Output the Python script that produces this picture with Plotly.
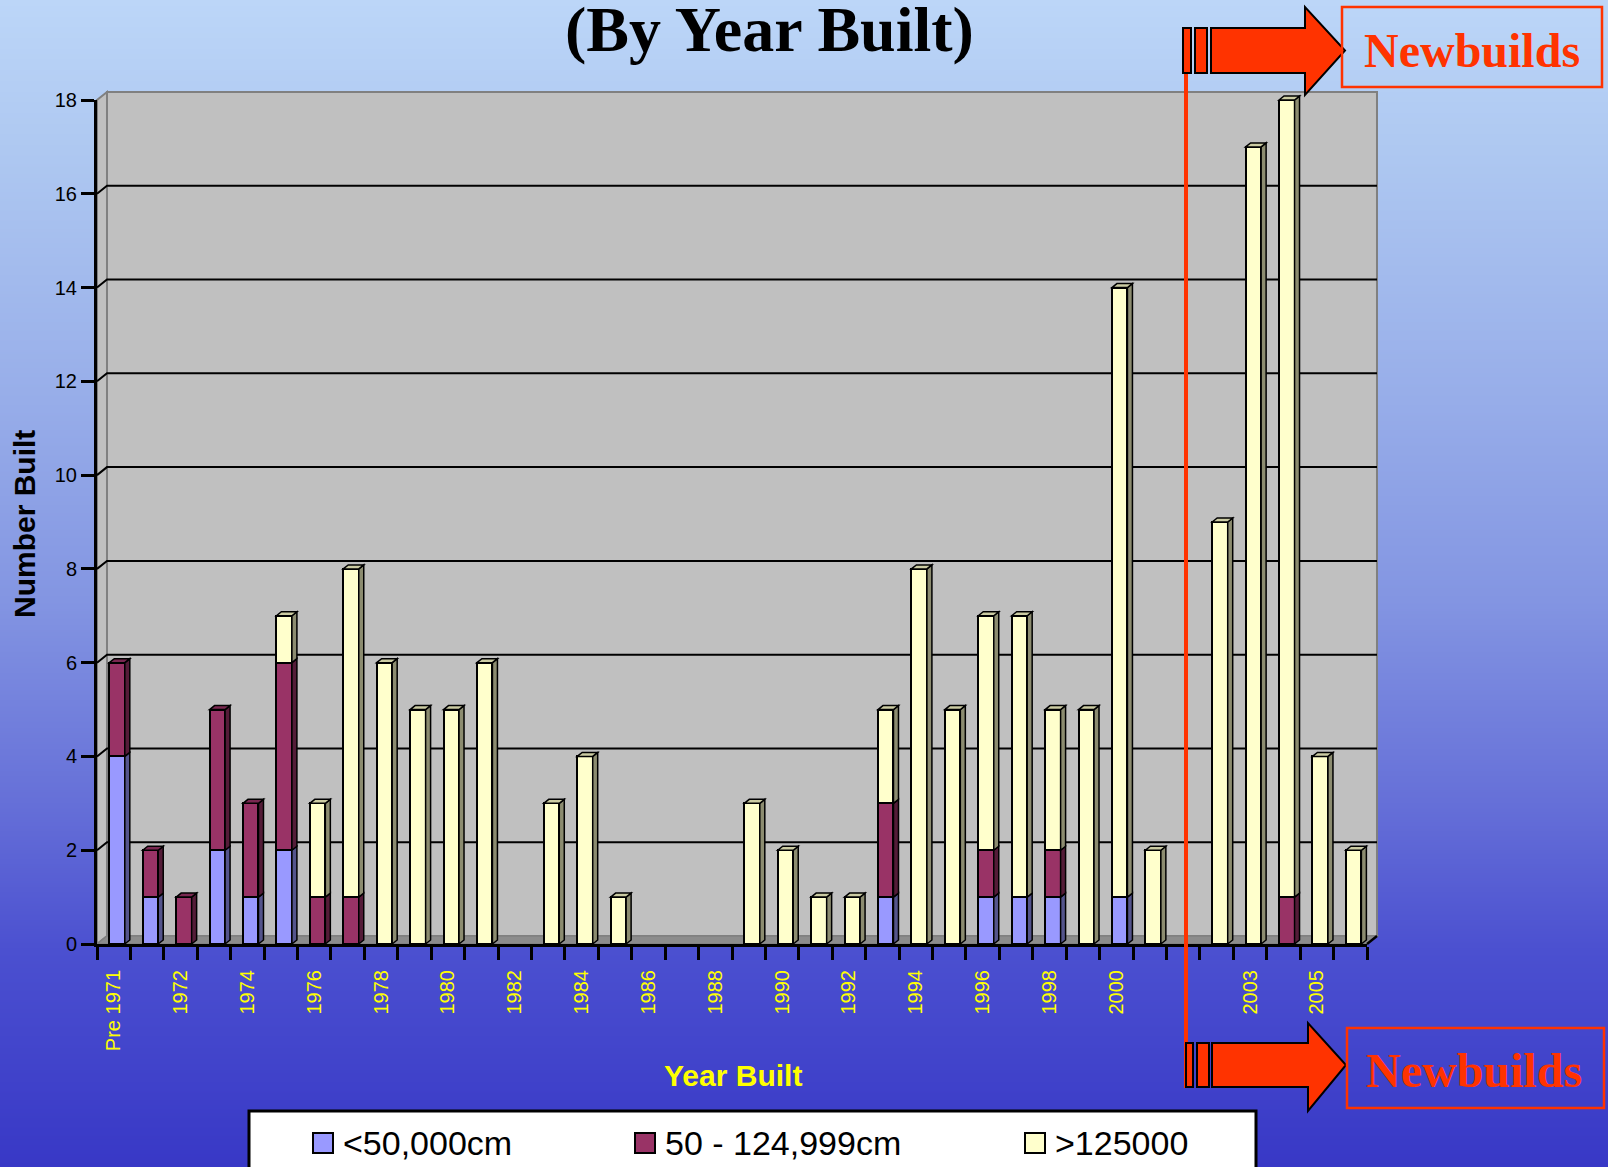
import base64
import struct
import zlib

import plotly.graph_objects as go

# ---------------------------------------------------------------- data
categories = ["Pre 1971", "1971", "1972", "1973", "1974", "1975", "1976", "1977",
              "1978", "1979", "1980", "1981", "1982", "1983", "1984", "1985",
              "1986", "1987", "1988", "1989", "1990", "1991", "1992", "1993",
              "1994", "1995", "1996", "1997", "1998", "1999", "2000", "2001",
              "", "2002", "2003", "2004", "2005", "2006"]

small = [4, 1, 0, 2, 1, 2, 0, 0, 0, 0, 0, 0, 0, 0, 0, 0, 0, 0, 0,
         0, 0, 0, 0, 1, 0, 0, 1, 1, 1, 0, 1, 0, 0, 0, 0, 0, 0, 0]
medium = [2, 1, 1, 3, 2, 4, 1, 1, 0, 0, 0, 0, 0, 0, 0, 0, 0, 0, 0,
          0, 0, 0, 0, 2, 0, 0, 1, 0, 1, 0, 0, 0, 0, 0, 0, 1, 0, 0]
large = [0, 0, 0, 0, 0, 1, 2, 7, 6, 5, 5, 6, 0, 3, 4, 1, 0, 0, 0,
         3, 2, 1, 1, 2, 8, 5, 5, 6, 3, 5, 13, 2, 0, 9, 17, 17, 4, 2]

series_names = ["<50,000cm", "50 - 124,999cm", ">125000"]
series_colors = ["#9999FF", "#993366", "#FFFFCC"]
y_ticks = [0, 2, 4, 6, 8, 10, 12, 14, 16, 18]

# ---------------------------------------------------------------- geometry
W, H = 1608, 1167
X0, X1 = 97, 1367          # pixel x of the category axis ends
Y0, Y1 = 944, 100          # pixel y of value 0 and value 18
N = len(categories)
YMAX = 18
WALL_DX, WALL_DY = 10, 8   # depth of the 3-D walls (px)
BAR_DX, BAR_DY = 5, 4      # depth of the 3-D bars (px)
BAR_W, BAR_OFF = 0.464, -0.132


def px(x):
    return (x - X0) / (X1 - X0)


def py(y):
    return (Y0 - y) / (Y0 - Y1)


wdx, wdy = WALL_DX / (X1 - X0), WALL_DY / (Y0 - Y1)
bdx, bdy = BAR_DX / (X1 - X0), BAR_DY / (Y0 - Y1)


def shade(hexcol, f):
    r, g, b = (int(hexcol[k:k + 2], 16) for k in (1, 3, 5))
    return "#%02X%02X%02X" % (int(r * f), int(g * f), int(b * f))


def poly(points):
    return "M " + " L ".join(f"{x:.5f},{y:.5f}" for x, y in points) + " Z"


# ---------------------------------------------------------------- background gradient
def gradient_png(height):
    stops = [(0, (188, 214, 248)), (150, (174, 200, 241)), (400, (151, 173, 233)),
             (600, (131, 149, 226)), (800, (102, 112, 216)), (950, (75, 80, 208)),
             (1167, (56, 56, 198))]

    def col(y):
        for (ya, ca), (yb, cb) in zip(stops, stops[1:]):
            if ya <= y <= yb:
                t = (y - ya) / (yb - ya)
                return bytes(int(round(a + (b - a) * t)) for a, b in zip(ca, cb))
        return bytes(stops[-1][1])

    raw = b"".join(b"\x00" + col(y) for y in range(height))

    def chunk(tag, data):
        return (struct.pack(">I", len(data)) + tag + data
                + struct.pack(">I", zlib.crc32(tag + data) & 0xFFFFFFFF))

    png = (b"\x89PNG\r\n\x1a\n"
           + chunk(b"IHDR", struct.pack(">IIBBBBB", 1, height, 8, 2, 0, 0, 0))
           + chunk(b"IDAT", zlib.compress(raw, 9))
           + chunk(b"IEND", b""))
    return "data:image/png;base64," + base64.b64encode(png).decode()


# ---------------------------------------------------------------- bars
fig = go.Figure()
xpos = [i + 0.5 for i in range(N)]
for name, vals, color in zip(series_names, [small, medium, large], series_colors):
    fig.add_trace(go.Bar(
        x=xpos, y=[v if v else None for v in vals], name=name,
        width=BAR_W, offset=BAR_OFF,
        marker=dict(color=color, line=dict(color="black", width=2)),
        showlegend=False, hoverinfo="skip",
    ))

shapes = []

# back wall, side wall, floor
shapes.append(dict(type="path", xref="paper", yref="paper", layer="below",
                   path=poly([(wdx, wdy), (1 + wdx, wdy), (1 + wdx, 1 + wdy), (wdx, 1 + wdy)]),
                   fillcolor="#C0C0C0", line=dict(color="#808080", width=2)))
shapes.append(dict(type="path", xref="paper", yref="paper", layer="below",
                   path=poly([(0, 0), (0, 1), (wdx, 1 + wdy), (wdx, wdy)]),
                   fillcolor="#C0C0C0", line=dict(color="#808080", width=2)))
shapes.append(dict(type="path", xref="paper", yref="paper", layer="below",
                   path=poly([(0, 0), (1, 0), (1 + wdx, wdy), (wdx, wdy)]),
                   fillcolor="#8C8C8C", line=dict(color="#808080", width=1.5)))
# gridlines on the back wall
for v in y_ticks[1:-1]:
    yv = v / YMAX
    shapes.append(dict(type="path", xref="paper", yref="paper", layer="below",
                       path=f"M 0,{yv:.5f} L {wdx:.5f},{yv + wdy:.5f} L {1 + wdx:.5f},{yv + wdy:.5f}",
                       line=dict(color="black", width=2)))
shapes.append(dict(type="line", xref="paper", yref="paper", layer="above",
                   x0=1, y0=0, x1=1 + wdx, y1=wdy, line=dict(color="black", width=2.5)))

# 3-D side and top faces of every stacked bar
for i in range(N):
    base = 0
    last = None
    for vals, color in zip([small, medium, large], series_colors):
        v = vals[i]
        if not v:
            continue
        xl = (i + 0.5 + BAR_OFF) / N
        xr = xl + BAR_W / N
        yb, yt = base / YMAX, (base + v) / YMAX
        shapes.append(dict(type="path", xref="paper", yref="paper", layer="above",
                           path=poly([(xr, yb), (xr + bdx, yb + bdy), (xr + bdx, yt + bdy), (xr, yt)]),
                           fillcolor=shade(color, 0.55), line=dict(color="black", width=1.5)))
        base += v
        last = (xl, xr, yt, color)
    if last:
        xl, xr, yt, color = last
        shapes.append(dict(type="path", xref="paper", yref="paper", layer="above",
                           path=poly([(xl, yt), (xl + bdx, yt + bdy), (xr + bdx, yt + bdy), (xr, yt)]),
                           fillcolor=shade(color, 0.8), line=dict(color="black", width=1.5)))

# ---------------------------------------------------------------- "Newbuilds" markers
RED = "#FF3300"
shapes.append(dict(type="line", xref="paper", yref="paper", layer="above",
                   x0=px(1186), x1=px(1186), y0=py(28), y1=py(1088),
                   line=dict(color=RED, width=4)))


def block_arrow(x_body, x_head, x_tip, y_top, y_bot, y_head_top, y_head_bot):
    ymid = (y_top + y_bot) / 2
    pts = [(x_body, y_top), (x_head, y_top), (x_head, y_head_top), (x_tip, ymid),
           (x_head, y_head_bot), (x_head, y_bot), (x_body, y_bot)]
    return poly([(px(x), py(y)) for x, y in pts])


for (r1, r2, body, head, tip, yt, yb, yht, yhb, box) in [
        ((1183, 1191), (1195, 1207), 1211, 1305, 1345, 28, 73, 7, 95, (1342, 7, 1602, 87)),
        ((1186, 1193), (1197, 1209), 1212, 1308, 1346, 1043, 1087, 1023, 1111, (1347, 1028, 1604, 1108))]:
    for a, b in (r1, r2):
        shapes.append(dict(type="rect", xref="paper", yref="paper", layer="above",
                           x0=px(a), x1=px(b), y0=py(yt), y1=py(yb),
                           fillcolor=RED, line=dict(color="black", width=2)))
    shapes.append(dict(type="path", xref="paper", yref="paper", layer="above",
                       path=block_arrow(body, head, tip, yt, yb, yht, yhb),
                       fillcolor=RED, line=dict(color="black", width=2)))
    shapes.append(dict(type="rect", xref="paper", yref="paper", layer="above",
                       x0=px(box[0]), x1=px(box[2]), y0=py(box[1]), y1=py(box[3]),
                       line=dict(color=RED, width=2.5)))

# ---------------------------------------------------------------- legend box
LEG_SQ = [313, 635, 1025]
shapes.append(dict(type="rect", xref="paper", yref="paper", layer="above",
                   x0=px(249), x1=px(1256), y0=py(1111), y1=py(1185),
                   fillcolor="white", line=dict(color="black", width=3)))
annotations = []
for xs, name, color in zip(LEG_SQ, series_names, series_colors):
    shapes.append(dict(type="rect", xref="paper", yref="paper", layer="above",
                       x0=px(xs), x1=px(xs + 20), y0=py(1133), y1=py(1153),
                       fillcolor=color, line=dict(color="black", width=2)))
    annotations.append(dict(xref="paper", yref="paper", x=px(xs + 28), y=py(1143),
                            xanchor="left", yanchor="middle", showarrow=False, text=name,
                            font=dict(family="Liberation Sans, Arial, sans-serif",
                                      size=34, color="black")))

# ---------------------------------------------------------------- texts
annotations += [
    dict(xref="paper", yref="paper", x=px(769), y=py(29), xanchor="center", yanchor="middle",
         showarrow=False, text="<b>(By Year Built)</b>",
         font=dict(family="Liberation Serif, Times New Roman, serif", size=64, color="black")),
    dict(xref="paper", yref="paper", x=px(24), y=py(524), xanchor="center", yanchor="middle",
         showarrow=False, textangle=-90, text="<b>Number Built</b>",
         font=dict(family="Liberation Sans, Arial, sans-serif", size=30, color="black")),
    dict(xref="paper", yref="paper", x=px(733), y=py(1075), xanchor="center", yanchor="middle",
         showarrow=False, text="<b>Year Built</b>",
         font=dict(family="Liberation Sans, Arial, sans-serif", size=30, color="#FFFF00")),
    dict(xref="paper", yref="paper", x=px(1472), y=py(50), xanchor="center", yanchor="middle",
         showarrow=False, text="<b>Newbuilds</b>",
         font=dict(family="Liberation Serif, Times New Roman, serif", size=48, color=RED)),
    dict(xref="paper", yref="paper", x=px(1474), y=py(1070), xanchor="center", yanchor="middle",
         showarrow=False, text="<b>Newbuilds</b>",
         font=dict(family="Liberation Serif, Times New Roman, serif", size=48, color=RED)),
]

label_idx = list(range(0, N, 2))
fig.update_layout(
    width=W, height=H,
    margin=dict(l=X0, r=W - X1, t=Y1, b=H - Y0, pad=0),
    paper_bgcolor="#7F8FE0", plot_bgcolor="rgba(0,0,0,0)",
    barmode="stack", hovermode=False,
    font=dict(family="Liberation Sans, Arial, sans-serif"),
    xaxis=dict(range=[0, N], showgrid=False, zeroline=False,
               showline=True, linecolor="black", linewidth=3,
               tickmode="array", tickvals=[i + 0.5 for i in label_idx],
               ticktext=[categories[i] for i in label_idx],
               ticks="outside", ticklen=15, tickcolor="rgba(0,0,0,0)",
               tickangle=-90, tickfont=dict(size=20, color="#FFFF00"),
               minor=dict(tickmode="array", tickvals=list(range(N + 1)), ticks="outside",
                          ticklen=13, tickwidth=3, tickcolor="black", showgrid=False)),
    yaxis=dict(range=[0, YMAX], showgrid=False, zeroline=False,
               showline=True, linecolor="black", linewidth=3,
               tickmode="array", tickvals=y_ticks,
               ticks="outside", ticklen=13, tickwidth=3, tickcolor="black",
               tickfont=dict(size=20, color="black")),
    shapes=shapes,
    annotations=annotations,
    images=[dict(source=gradient_png(H), xref="paper", yref="paper",
                 x=px(0), y=py(0), sizex=W / (X1 - X0), sizey=H / (Y0 - Y1),
                 xanchor="left", yanchor="top", sizing="stretch", layer="below")],
)

fig.write_html("out.html")
